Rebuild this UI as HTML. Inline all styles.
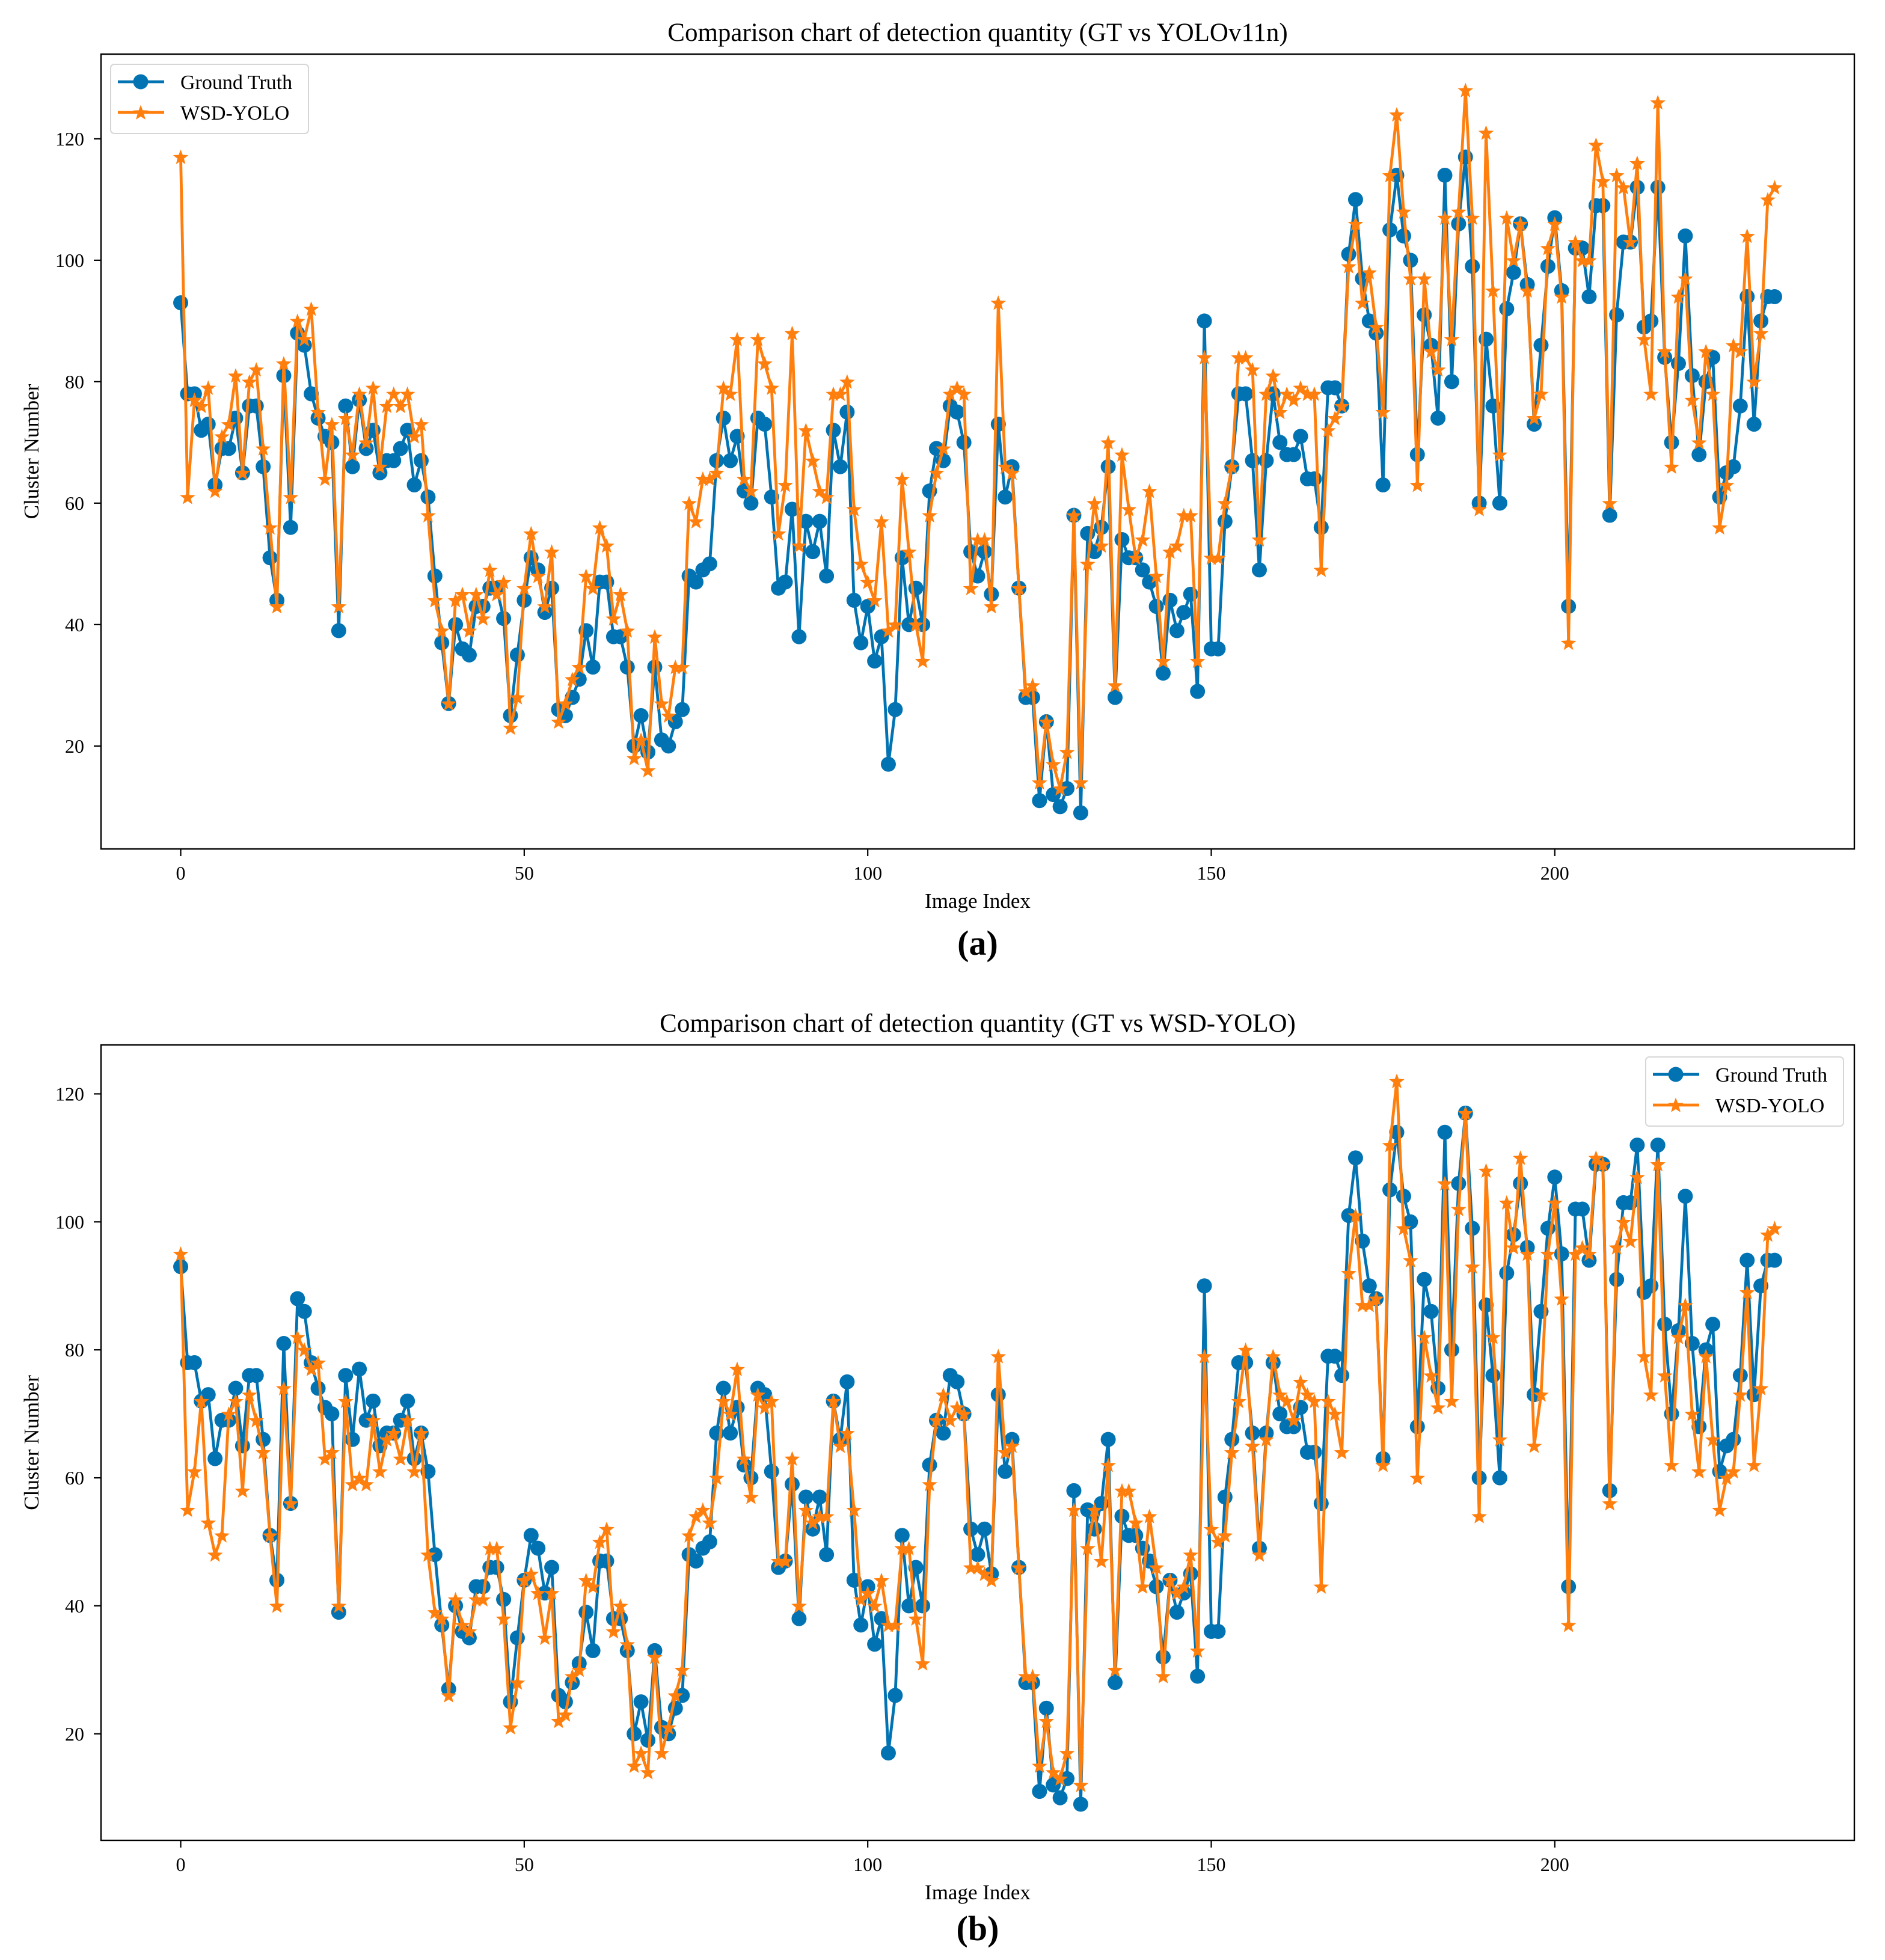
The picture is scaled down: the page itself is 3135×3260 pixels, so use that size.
<!DOCTYPE html>
<html><head><meta charset="utf-8"><style>
html,body{margin:0;padding:0;background:#fff;}
svg{display:block;font-family:"Liberation Serif",serif;}
</style></head><body>
<svg id="root" width="3135" height="3260" xmlns="http://www.w3.org/2000/svg"></svg>
<script>
const categories = Array.from({length:233},(_,i)=>i);
const groundTruth = [93,78,78,72,73,63,69,69,74,65,76,76,66,51,44,81,56,88,86,78,74,71,70,39,76,66,77,69,72,65,67,67,69,72,63,67,61,48,37,27,40,36,35,43,43,46,46,41,25,35,44,51,49,42,46,26,25,28,31,39,33,47,47,38,38,33,20,25,19,33,21,20,24,26,48,47,49,50,67,74,67,71,62,60,74,73,61,46,47,59,38,57,52,57,48,72,66,75,44,37,43,34,38,17,26,51,40,46,40,62,69,67,76,75,70,52,48,52,45,73,61,66,46,28,28,11,24,12,10,13,58,9,55,52,56,66,28,54,51,51,49,47,43,32,44,39,42,45,29,90,36,36,57,66,78,78,67,49,67,78,70,68,68,71,64,64,56,79,79,76,101,110,97,90,88,63,105,114,104,100,68,91,86,74,114,80,106,117,99,60,87,76,60,92,98,106,96,73,86,99,107,95,43,102,102,94,109,109,58,91,103,103,112,89,90,112,84,70,83,104,81,68,80,84,61,65,66,76,94,73,90,94,94];
const yoloPred = [117,61,77,76,79,62,71,73,81,65,80,82,69,56,43,83,61,90,87,92,75,64,73,43,74,68,78,70,79,66,76,78,76,78,71,73,58,44,39,27,44,45,39,45,41,49,45,47,23,28,46,55,48,43,52,24,27,31,33,48,46,56,53,41,45,39,18,21,16,38,27,25,33,33,60,57,64,64,65,79,78,87,64,62,87,83,79,55,63,88,53,72,67,62,61,78,78,80,59,50,47,44,57,39,40,64,52,40,34,58,65,69,78,79,78,46,54,54,43,93,66,65,46,29,30,14,24,17,13,19,58,14,50,60,53,70,30,68,59,51,54,62,48,34,52,53,58,58,34,84,51,51,60,66,84,84,82,54,78,81,75,78,77,79,78,78,49,72,74,76,99,106,93,98,89,75,114,124,108,97,63,97,85,82,107,87,108,128,107,59,121,95,68,107,100,106,95,74,78,102,106,94,37,103,100,100,119,113,60,114,112,103,116,87,78,126,85,66,94,97,77,70,85,78,56,63,86,85,104,80,88,110,112];
const wsdPred = [95,55,61,72,53,48,51,70,72,58,73,69,64,51,40,74,56,82,80,77,78,63,64,40,72,59,60,59,69,61,66,67,63,69,61,67,48,39,38,26,41,37,36,41,41,49,49,38,21,28,44,45,42,35,42,22,23,29,30,44,43,50,52,36,40,34,15,17,14,32,17,21,26,30,51,54,55,53,60,72,70,77,63,57,73,71,72,47,47,63,40,55,53,54,54,72,65,67,55,41,42,40,44,37,37,49,49,38,31,59,69,73,69,71,70,46,46,45,44,79,64,65,46,29,29,15,22,14,13,17,55,12,49,55,47,62,30,58,58,53,43,54,46,29,44,42,43,48,33,79,52,50,51,64,72,80,65,48,66,79,73,72,69,75,73,72,43,72,70,64,92,101,87,87,88,62,112,122,99,94,60,82,76,71,106,72,102,117,93,54,108,82,66,103,96,110,95,65,73,95,103,88,37,95,96,95,110,109,56,96,100,97,107,79,73,109,76,62,82,87,70,61,79,66,55,60,61,73,89,62,74,98,99];
const xTicks = [0,50,100,150,200];
const yTicks = [20,40,60,80,100,120];

const NS="http://www.w3.org/2000/svg";
const root=document.getElementById('root');
const BLUE="#0173b2", ORANGE="#ff7f0e";
function mk(tag,attrs,parent){const e=document.createElementNS(NS,tag);for(const k in attrs)e.setAttribute(k,attrs[k]);(parent||root).appendChild(e);return e;}
function starPts(cx,cy,R){const r=R*0.42;let p=[];for(let i=0;i<10;i++){const a=-Math.PI/2+i*Math.PI/5;const rr=i%2?r:R;p.push((cx+rr*Math.cos(a)).toFixed(1)+","+(cy+rr*Math.sin(a)).toFixed(1));}return p.join(" ");}

function drawChart(cfg){
  const g=mk('g',{});
  
  
  const L=168,R=3084,T=cfg.top,B=cfg.bottom;
  const n=categories.length;
  const xmin=categories[0]-(categories[n-1]-categories[0])*0.05, xmax=categories[n-1]+(categories[n-1]-categories[0])*0.05;
  const all=groundTruth.concat(cfg.pred);
  const dmin=Math.min(...all), dmax=Math.max(...all), dr=dmax-dmin;
  const ymin=dmin-dr*0.05, ymax=dmax+dr*0.05;
  const X=v=>L+(v-xmin)/(xmax-xmin)*(R-L);
  const Y=v=>B-(v-ymin)/(ymax-ymin)*(B-T);
  const t=mk('text',{x:(L+R)/2,y:T-22,'text-anchor':'middle','font-size':43,fill:'#000'},g);
  t.textContent=cfg.title;
  
  
  xTicks.forEach(v=>{
    const x=X(v);
    const tk=mk('line',{x1:x,x2:x,y1:B,y2:B+12,stroke:'#000','stroke-width':2.2},g);
    
    
    const tl=mk('text',{x:x,y:B+51,'text-anchor':'middle','font-size':32},g);
    tl.textContent=v;
    
    
  });
  yTicks.forEach(v=>{
    const y=Y(v);
    const tk=mk('line',{x1:L-12,x2:L,y1:y,y2:y,stroke:'#000','stroke-width':2.2},g);
    
    
    const tl=mk('text',{x:L-28,y:y+11,'text-anchor':'end','font-size':32},g);
    tl.textContent=v;
    
    
  });
  const xl=mk('text',{x:(L+R)/2,y:B+98,'text-anchor':'middle','font-size':35},g);
  xl.textContent='Image Index';
  
  
  const yl=mk('text',{x:0,y:0,'text-anchor':'middle','font-size':35,transform:`translate(64,${(T+B)/2}) rotate(-90)`},g);
  yl.textContent='Cluster Number';
  
  
  function series(vals,color,marker,name){
    const sg=mk('g',{},g);
    
    
    const pts=vals.map((v,i)=>X(categories[i]).toFixed(1)+","+Y(v).toFixed(1)).join(" ");
    mk('polyline',{points:pts,fill:'none',stroke:color,'stroke-width':4.8,'stroke-linejoin':'round'},sg);
    vals.forEach((v,i)=>{
      let m;
      if(marker==='o') m=mk('circle',{cx:X(categories[i]),cy:Y(v),r:12.5,fill:color},sg);
      else m=mk('polygon',{points:starPts(X(categories[i]),Y(v)+1,13.5),fill:color},sg);
      
      
    });
  }
  series(groundTruth,BLUE,'o','ground-truth-series');
  series(cfg.pred,ORANGE,'*','wsd-yolo-series');
  const fr=mk('rect',{x:L,y:T,width:R-L,height:B-T,fill:'none',stroke:'#000','stroke-width':2.4},g);
  
  
  const lx=cfg.legX, ly=cfg.legY;
  const lg=mk('g',{},g);
  
  
  mk('rect',{x:lx,y:ly,width:329,height:115,rx:6,fill:'#fff','fill-opacity':0.8,stroke:'#d6d6d6','stroke-width':2},lg);
  [['Ground Truth',BLUE,'o'],['WSD-YOLO',ORANGE,'*']].forEach((e,k)=>{
    const yy=ly+29+k*51;
    const eg=mk('g',{},lg);
    
    
    mk('line',{x1:lx+12,x2:lx+89,y1:yy,y2:yy,stroke:e[1],'stroke-width':4.8},eg);
    if(e[2]==='o') mk('circle',{cx:lx+50,cy:yy,r:12.5,fill:e[1]},eg);
    else mk('polygon',{points:starPts(lx+50,yy+1,13.5),fill:e[1]},eg);
    const tx=mk('text',{x:lx+116,y:yy+12,'font-size':34},eg);
    tx.textContent=e[0];
  });
  const sub=mk('text',{x:(L+R)/2,y:cfg.subY,'text-anchor':'middle','font-size':58,'font-weight':'bold'},g);
  sub.textContent=cfg.sub;
  
  
}
drawChart({name:'chart-a',title:'Comparison chart of detection quantity (GT vs YOLOv11n)',pred:yoloPred,top:90,bottom:1412,legX:184,legY:107,sub:'(a)',subY:1588});
drawChart({name:'chart-b',title:'Comparison chart of detection quantity (GT vs WSD-YOLO)',pred:wsdPred,top:1738,bottom:3061,legX:2737,legY:1758,sub:'(b)',subY:3227});
</script>
</body></html>
